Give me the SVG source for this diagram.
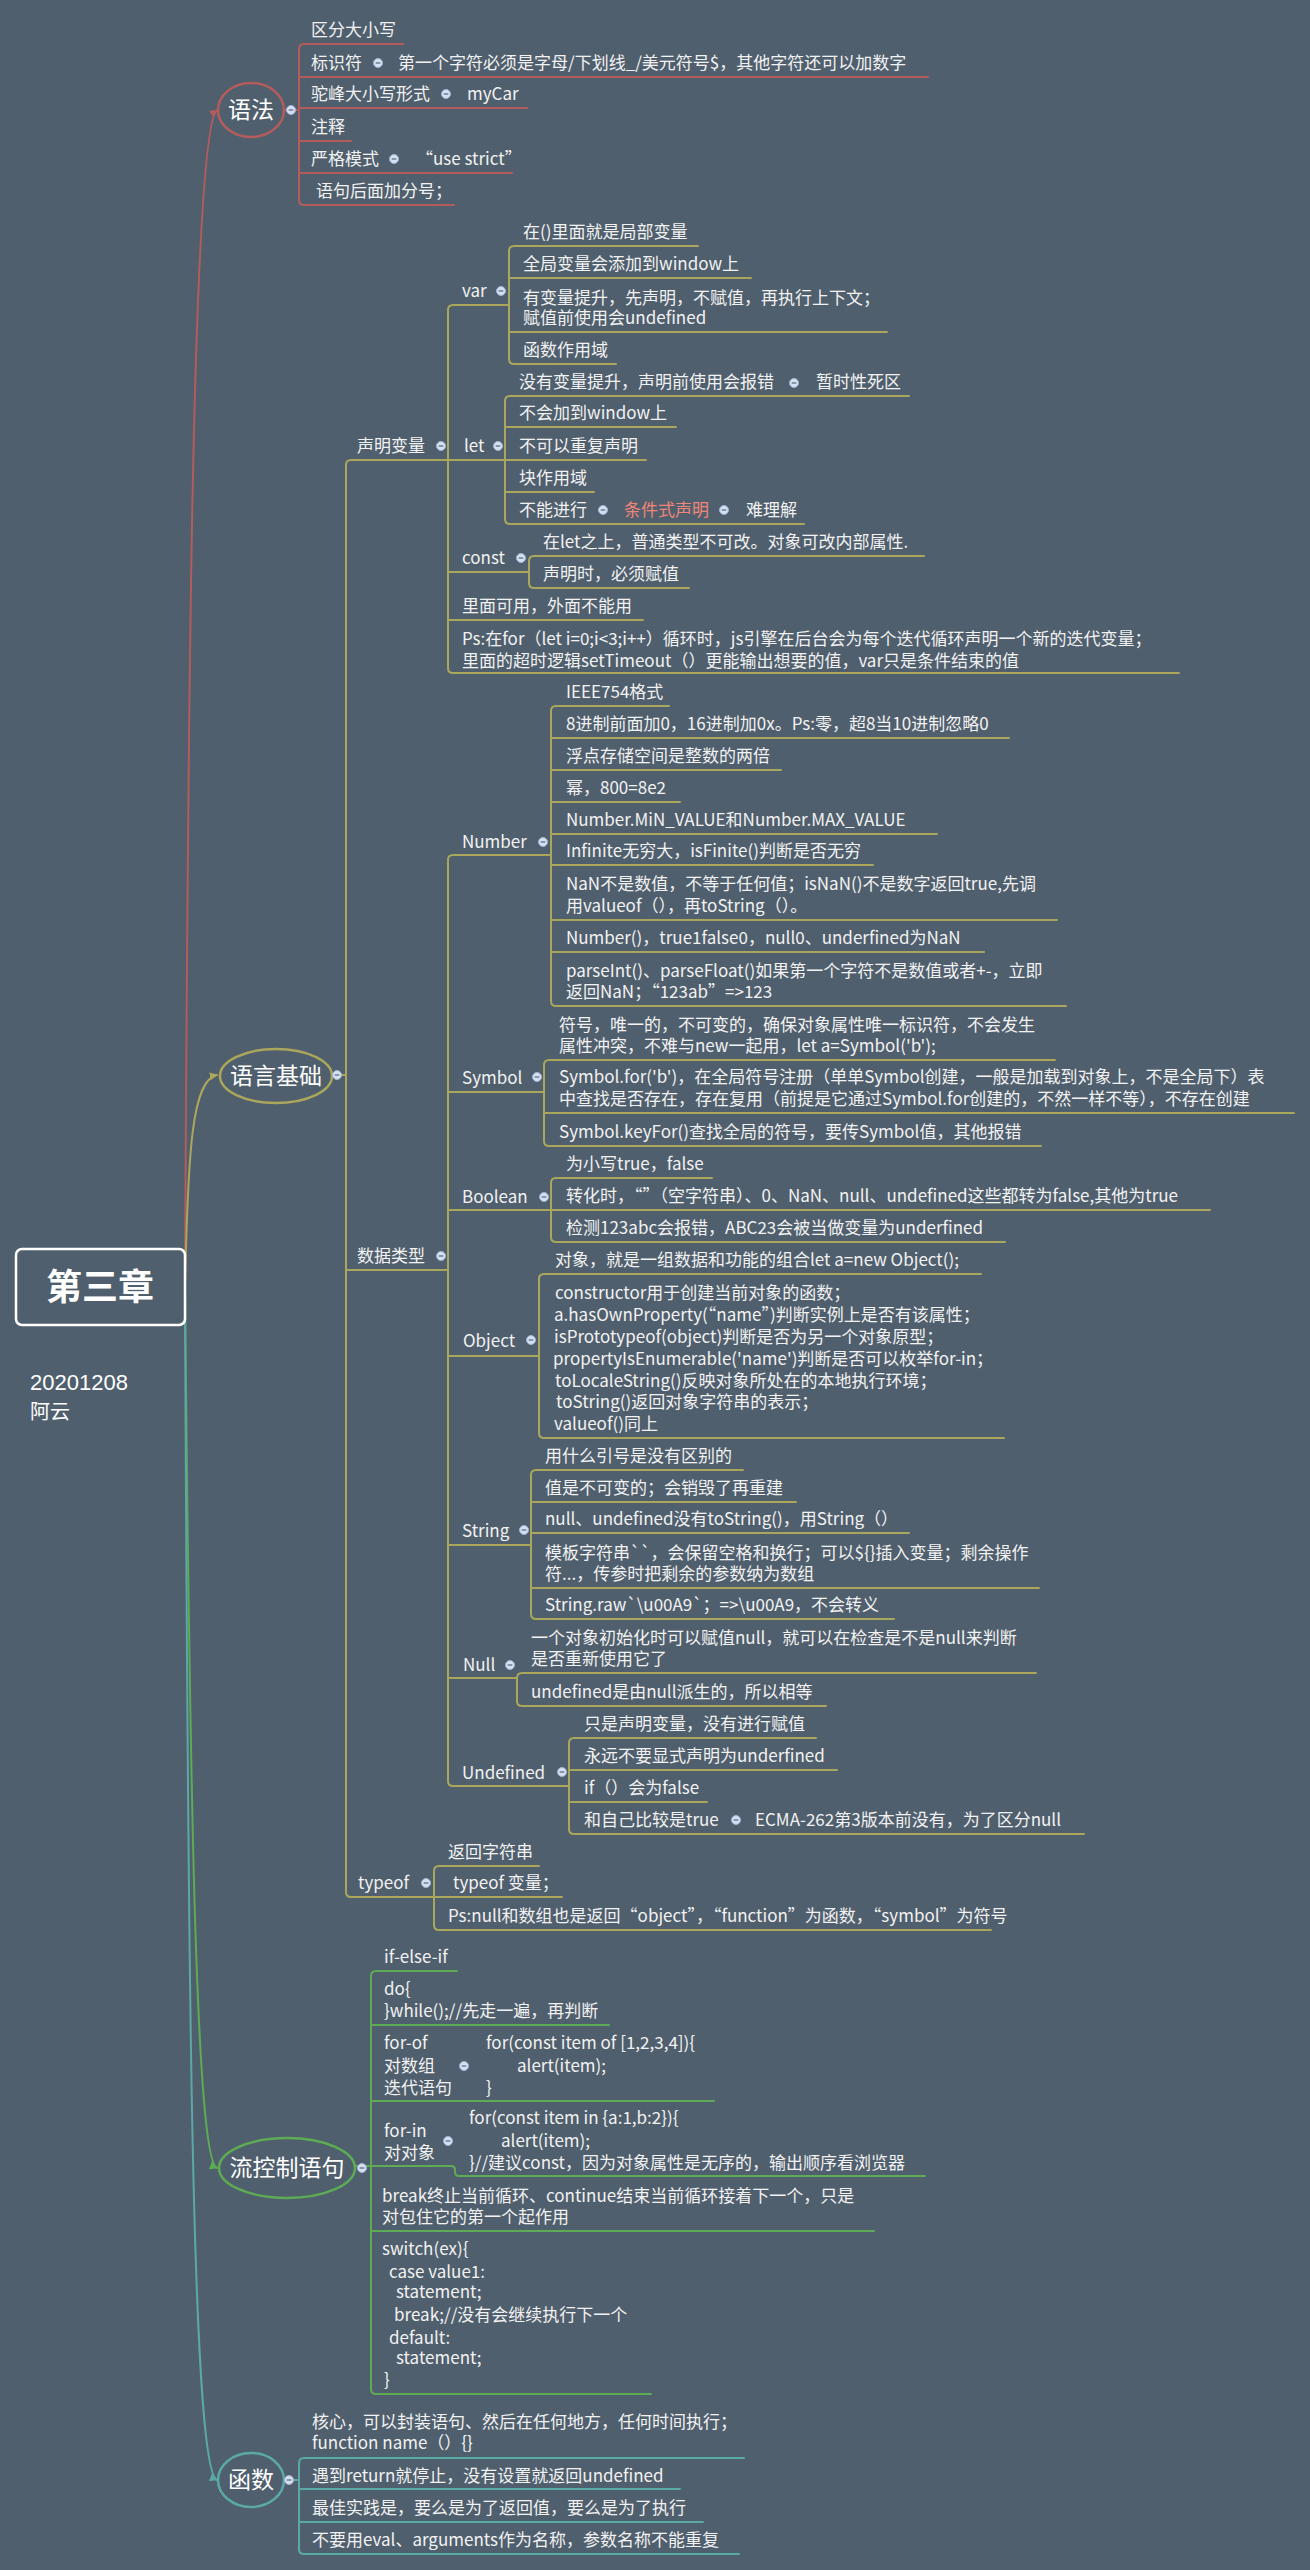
<svg xmlns="http://www.w3.org/2000/svg" xmlns:xlink="http://www.w3.org/1999/xlink" width="1310" height="2570" viewBox="0 0 1310 2570">
<style>
.t{font-family:"Noto Sans CJK SC","Noto Sans",sans-serif;font-size:17px;fill:#f2f2f2}
.big{font-family:"Noto Sans CJK SC","Noto Sans",sans-serif;font-size:23px;fill:#ffffff;text-anchor:middle}
.hl{fill:#f0857a}
.ln{fill:none;stroke-width:2;stroke-linecap:round}
.r{stroke:#b35c5c}.o{stroke:#aaa65b}.g{stroke:#5dab55}.c{stroke:#5aa9a7}
.ell{fill:#505f6d;stroke-width:2.5}
</style>
<defs>
<g id="dot"><circle r="4.5" fill="#d6dff0" stroke="#9fb3d6" stroke-width="1"/><line x1="-2.3" y1="0" x2="2.3" y2="0" stroke="#56657a" stroke-width="1.2"/></g>
<marker id="ar" viewBox="0 0 10 10" refX="9" refY="5" markerWidth="8" markerHeight="8" markerUnits="userSpaceOnUse" orient="auto"><path d="M0,0 L10,5 L0,10 z" fill="#b35c5c"/></marker>
<marker id="ao" viewBox="0 0 10 10" refX="9" refY="5" markerWidth="8" markerHeight="8" markerUnits="userSpaceOnUse" orient="auto"><path d="M0,0 L10,5 L0,10 z" fill="#aaa65b"/></marker>
<marker id="ag" viewBox="0 0 10 10" refX="9" refY="5" markerWidth="8" markerHeight="8" markerUnits="userSpaceOnUse" orient="auto"><path d="M0,0 L10,5 L0,10 z" fill="#5dab55"/></marker>
<marker id="ac" viewBox="0 0 10 10" refX="9" refY="5" markerWidth="8" markerHeight="8" markerUnits="userSpaceOnUse" orient="auto"><path d="M0,0 L10,5 L0,10 z" fill="#5aa9a7"/></marker>
</defs>
<rect x="0" y="0" width="1310" height="2570" fill="#505f6d"/>

<g id="connectors">
<path class="ln r" d="M185 1287 C188 700 192 130 217 110" marker-end="url(#ar)"/>
<path class="ln o" d="M185 1287 C188 1150 192 1080 217 1075" marker-end="url(#ao)"/>
<path class="ln g" d="M185 1287 C190 1800 196 2160 217 2168" marker-end="url(#ag)"/>
<path class="ln c" d="M185 1287 C188 2000 192 2470 217 2480" marker-end="url(#ac)"/>

<path class="ln r" d="M284 110 H299 M403 44 H304 Q299 44 299 49 V200 Q299 205 304 205 H454 M299 77 H928 M299 108 H527 M299 141 H351 M299 173 H512"/>

<path class="ln o" d="M332 1075 H346 M448 460 H351 Q346 460 346 465 V1892 Q346 1897 351 1897 H434 M346 1270 H448"/>
<path class="ln o" d="M509 305 H453 Q448 305 448 310 V668 Q448 673 453 673 H1179 M448 460 H505 M448 572 H529 M448 620 H643"/>
<path class="ln o" d="M698 246 H514 Q509 246 509 251 V359 Q509 364 514 364 H616 M509 278 H751 M509 332 H887"/>
<path class="ln o" d="M909 396 H510 Q505 396 505 401 V519 Q505 524 510 524 H804 M505 427 H676 M505 460 H646 M505 492 H594"/>
<path class="ln o" d="M924 556 H534 Q529 556 529 561 V583 Q529 588 534 588 H689"/>
<path class="ln o" d="M551 855 H453 Q448 855 448 860 V1781 Q448 1786 453 1786 H569 M448 1092 H544 M448 1210 H551 M448 1356 H539 M448 1545 H531 M448 1678 H517"/>
<path class="ln o" d="M669 706 H556 Q551 706 551 711 V1001 Q551 1006 556 1006 H1066 M551 738 H1009 M551 770 H781 M551 802 H680 M551 834 H937 M551 865 H873 M551 920 H1057 M551 952 H984"/>
<path class="ln o" d="M1055 1060 H549 Q544 1060 544 1065 V1141 Q544 1146 549 1146 H1041 M544 1113 H1294"/>
<path class="ln o" d="M712 1178 H556 Q551 1178 551 1183 V1237 Q551 1242 556 1242 H1005 M551 1210 H1210"/>
<path class="ln o" d="M981 1274 H544 Q539 1274 539 1279 V1433 Q539 1438 544 1438 H1004"/>
<path class="ln o" d="M743 1470 H536 Q531 1470 531 1475 V1614 Q531 1619 536 1619 H894 M531 1502 H796 M531 1533 H909 M531 1588 H1039"/>
<path class="ln o" d="M1036 1673 H522 Q517 1673 517 1678 V1701 Q517 1706 522 1706 H826"/>
<path class="ln o" d="M816 1738 H574 Q569 1738 569 1743 V1829 Q569 1834 574 1834 H1084 M569 1770 H837 M569 1802 H707"/>
<path class="ln o" d="M539 1866 H439 Q434 1866 434 1871 V1925 Q434 1930 439 1930 H991 M434 1897 H562"/>

<path class="ln g" d="M355 2166 H371 M457 1971 H376 Q371 1971 371 1976 V2389 Q371 2394 376 2394 H651 M371 2025 H609 M371 2101 H714 M371 2231 H874 M371 2166 H451 Q455 2166 455 2170 V2172 Q455 2176 459 2176 H925"/>

<path class="ln c" d="M284 2480 H299 M744 2458 H304 Q299 2458 299 2463 V2549 Q299 2554 304 2554 H739 M299 2489 H680 M299 2522 H703"/>
</g>

<g id="root">
<rect x="16" y="1249" width="169" height="76" rx="6" fill="#505f6d" stroke="#ffffff" stroke-width="2.5"/>
<text x="100" y="1300" style="font-family:'Noto Sans CJK SC',sans-serif;font-size:36px;font-weight:bold;fill:#fff;text-anchor:middle">第三章</text>
</g>
<g id="note">
<text x="30" y="1390" style="font-family:'Liberation Sans',sans-serif;font-size:22px;fill:#fff">20201208</text>
<text x="30" y="1419" style="font-family:'Noto Sans CJK SC',sans-serif;font-size:20px;fill:#fff">阿云</text>
</g>

<g id="yufa">
<ellipse class="ell r" cx="251" cy="110" rx="33" ry="27"/>
<text class="big" x="251" y="118">语法</text>
<use href="#dot" x="291" y="110"/>
<text class="t" x="311" y="36">区分大小写</text>
<text class="t" x="311" y="69">标识符</text><use href="#dot" x="378" y="63"/><text class="t" x="398" y="69">第一个字符必须是字母/下划线_/美元符号$，其他字符还可以加数字</text>
<text class="t" x="311" y="100">驼峰大小写形式</text><use href="#dot" x="446" y="94"/><text class="t" x="467" y="100">myCar</text>
<text class="t" x="311" y="133">注释</text>
<text class="t" x="311" y="165">严格模式</text><use href="#dot" x="394" y="159"/><text class="t" x="416" y="165">“use strict”</text>
<text class="t" x="316" y="197">语句后面加分号；</text>
</g>

<g id="yuyanjichu">
<ellipse class="ell o" cx="276" cy="1076" rx="56" ry="27"/>
<text class="big" x="276" y="1084">语言基础</text>
<use href="#dot" x="337" y="1075"/>
</g>

<g id="shengmingbianliang">
<text class="t" x="357" y="452">声明变量</text><use href="#dot" x="441" y="446"/>
<text class="t" x="462" y="297">var</text><use href="#dot" x="501" y="291"/>
<text class="t" x="523" y="238">在()里面就是局部变量</text>
<text class="t" x="523" y="270">全局变量会添加到window上</text>
<text class="t" x="523" y="304">有变量提升，先声明，不赋值，再执行上下文；</text>
<text class="t" x="523" y="324">赋值前使用会undefined</text>
<text class="t" x="523" y="356">函数作用域</text>
<text class="t" x="464" y="452">let</text><use href="#dot" x="498" y="446"/>
<text class="t" x="519" y="388">没有变量提升，声明前使用会报错</text><use href="#dot" x="794" y="383"/><text class="t" x="816" y="388">暂时性死区</text>
<text class="t" x="519" y="419">不会加到window上</text>
<text class="t" x="519" y="452">不可以重复声明</text>
<text class="t" x="519" y="484">块作用域</text>
<text class="t" x="519" y="516">不能进行</text><use href="#dot" x="603" y="510"/><text class="t hl" x="624" y="516">条件式声明</text><use href="#dot" x="724" y="510"/><text class="t" x="746" y="516">难理解</text>
<text class="t" x="462" y="564">const</text><use href="#dot" x="521" y="558"/>
<text class="t" x="543" y="548">在let之上，普通类型不可改。对象可改内部属性.</text>
<text class="t" x="543" y="580">声明时，必须赋值</text>
<text class="t" x="462" y="612">里面可用，外面不能用</text>
<text class="t" x="462" y="645">Ps:在for（let i=0;i&lt;3;i++）循环时，js引擎在后台会为每个迭代循环声明一个新的迭代变量；</text>
<text class="t" x="462" y="667">里面的超时逻辑setTimeout（）更能输出想要的值，var只是条件结束的值</text>
</g>

<g id="shujuleixing">
<text class="t" x="357" y="1262">数据类型</text><use href="#dot" x="441" y="1256"/>
<text class="t" x="462" y="848">Number</text><use href="#dot" x="543" y="842"/>
<text class="t" x="566" y="698">IEEE754格式</text>
<text class="t" x="566" y="730">8进制前面加0，16进制加0x。Ps:零，超8当10进制忽略0</text>
<text class="t" x="566" y="762">浮点存储空间是整数的两倍</text>
<text class="t" x="566" y="794">幂，800=8e2</text>
<text class="t" x="566" y="826">Number.MiN_VALUE和Number.MAX_VALUE</text>
<text class="t" x="566" y="857">Infinite无穷大，isFinite()判断是否无穷</text>
<text class="t" x="566" y="890">NaN不是数值，不等于任何值；isNaN()不是数字返回true,先调</text>
<text class="t" x="566" y="912">用valueof（），再toString（）。</text>
<text class="t" x="566" y="944">Number()，true1false0，null0、underfined为NaN</text>
<text class="t" x="566" y="977">parseInt()、parseFloat()如果第一个字符不是数值或者+-，立即</text>
<text class="t" x="566" y="998">返回NaN；“123ab”=&gt;123</text>

<text class="t" x="462" y="1084">Symbol</text><use href="#dot" x="537" y="1077"/>
<text class="t" x="559" y="1031">符号，唯一的，不可变的，确保对象属性唯一标识符，不会发生</text>
<text class="t" x="559" y="1052">属性冲突，不难与new一起用，let a=Symbol('b');</text>
<text class="t" x="559" y="1083">Symbol.for('b')，在全局符号注册（单单Symbol创建，一般是加载到对象上，不是全局下）表</text>
<text class="t" x="559" y="1105">中查找是否存在，存在复用（前提是它通过Symbol.for创建的，不然一样不等），不存在创建</text>
<text class="t" x="559" y="1138">Symbol.keyFor()查找全局的符号，要传Symbol值，其他报错</text>

<text class="t" x="462" y="1203">Boolean</text><use href="#dot" x="544" y="1197"/>
<text class="t" x="566" y="1170">为小写true，false</text>
<text class="t" x="566" y="1202">转化时，“”（空字符串）、0、NaN、null、undefined这些都转为false,其他为true</text>
<text class="t" x="566" y="1234">检测123abc会报错，ABC23会被当做变量为underfined</text>

<text class="t" x="463" y="1347">Object</text><use href="#dot" x="531" y="1340"/>
<text class="t" x="555" y="1266">对象，就是一组数据和功能的组合let a=new Object();</text>
<text class="t" x="555" y="1299">constructor用于创建当前对象的函数；</text>
<text class="t" x="554" y="1321">a.hasOwnProperty(“name”)判断实例上是否有该属性；</text>
<text class="t" x="554" y="1343">isPrototypeof(object)判断是否为另一个对象原型；</text>
<text class="t" x="553" y="1365">propertyIsEnumerable('name')判断是否可以枚举for-in；</text>
<text class="t" x="555" y="1387">toLocaleString()反映对象所处在的本地执行环境；</text>
<text class="t" x="556" y="1408">toString()返回对象字符串的表示；</text>
<text class="t" x="554" y="1430">valueof()同上</text>

<text class="t" x="462" y="1537">String</text><use href="#dot" x="524" y="1530"/>
<text class="t" x="545" y="1462">用什么引号是没有区别的</text>
<text class="t" x="545" y="1494">值是不可变的；会销毁了再重建</text>
<text class="t" x="545" y="1525">null、undefined没有toString()，用String（）</text>
<text class="t" x="545" y="1559">模板字符串``，会保留空格和换行；可以${}插入变量；剩余操作</text>
<text class="t" x="545" y="1580">符...，传参时把剩余的参数纳为数组</text>
<text class="t" x="545" y="1611">String.raw`\u00A9`；=&gt;\u00A9，不会转义</text>

<text class="t" x="463" y="1671">Null</text><use href="#dot" x="510" y="1665"/>
<text class="t" x="531" y="1644">一个对象初始化时可以赋值null，就可以在检查是不是null来判断</text>
<text class="t" x="531" y="1665">是否重新使用它了</text>
<text class="t" x="531" y="1698">undefined是由null派生的，所以相等</text>

<text class="t" x="462" y="1779">Undefined</text><use href="#dot" x="562" y="1772"/>
<text class="t" x="584" y="1730">只是声明变量，没有进行赋值</text>
<text class="t" x="584" y="1762">永远不要显式声明为underfined</text>
<text class="t" x="584" y="1794">if（）会为false</text>
<text class="t" x="584" y="1826">和自己比较是true</text><use href="#dot" x="736" y="1820"/><text class="t" x="755" y="1826">ECMA-262第3版本前没有，为了区分null</text>
</g>

<g id="typeof">
<text class="t" x="358" y="1889">typeof</text><use href="#dot" x="426" y="1883"/>
<text class="t" x="448" y="1858">返回字符串</text>
<text class="t" x="453" y="1889">typeof 变量；</text>
<text class="t" x="448" y="1922">Ps:null和数组也是返回“object”，“function”为函数，“symbol”为符号</text>
</g>

<g id="liukongzhi">
<ellipse class="ell g" cx="287" cy="2168" rx="68" ry="30"/>
<text class="big" x="287" y="2176">流控制语句</text>
<use href="#dot" x="362" y="2168"/>
<text class="t" x="384" y="1963">if-else-if</text>
<text class="t" x="384" y="1995">do{</text>
<text class="t" x="384" y="2017">}while();//先走一遍，再判断</text>
<text class="t" x="384" y="2049">for-of</text>
<text class="t" x="384" y="2072">对数组</text>
<text class="t" x="384" y="2094">迭代语句</text>
<use href="#dot" x="464" y="2066"/>
<text class="t" x="486" y="2049">for(const item of [1,2,3,4]){</text>
<text class="t" x="517" y="2072">alert(item);</text>
<text class="t" x="486" y="2094">}</text>
<text class="t" x="384" y="2137">for-in</text>
<text class="t" x="384" y="2159">对对象</text>
<use href="#dot" x="448" y="2141"/>
<text class="t" x="469" y="2124">for(const item in {a:1,b:2}){</text>
<text class="t" x="501" y="2147">alert(item);</text>
<text class="t" x="469" y="2169">}//建议const，因为对象属性是无序的，输出顺序看浏览器</text>
<text class="t" x="382" y="2202">break终止当前循环、continue结束当前循环接着下一个，只是</text>
<text class="t" x="382" y="2223">对包住它的第一个起作用</text>
<text class="t" x="382" y="2255">switch(ex){</text>
<text class="t" x="389" y="2278">case value1:</text>
<text class="t" x="396" y="2298">statement;</text>
<text class="t" x="394" y="2321">break;//没有会继续执行下一个</text>
<text class="t" x="389" y="2344">default:</text>
<text class="t" x="396" y="2364">statement;</text>
<text class="t" x="384" y="2386">}</text>
</g>

<g id="hanshu">
<ellipse class="ell c" cx="251" cy="2480" rx="33" ry="27"/>
<text class="big" x="251" y="2488">函数</text>
<use href="#dot" x="289" y="2480"/>
<text class="t" x="312" y="2428">核心，可以封装语句、然后在任何地方，任何时间执行；</text>
<text class="t" x="312" y="2449">function name（）{}</text>
<text class="t" x="312" y="2482">遇到return就停止，没有设置就返回undefined</text>
<text class="t" x="312" y="2514">最佳实践是，要么是为了返回值，要么是为了执行</text>
<text class="t" x="312" y="2546">不要用eval、arguments作为名称，参数名称不能重复</text>
</g>
</svg>
